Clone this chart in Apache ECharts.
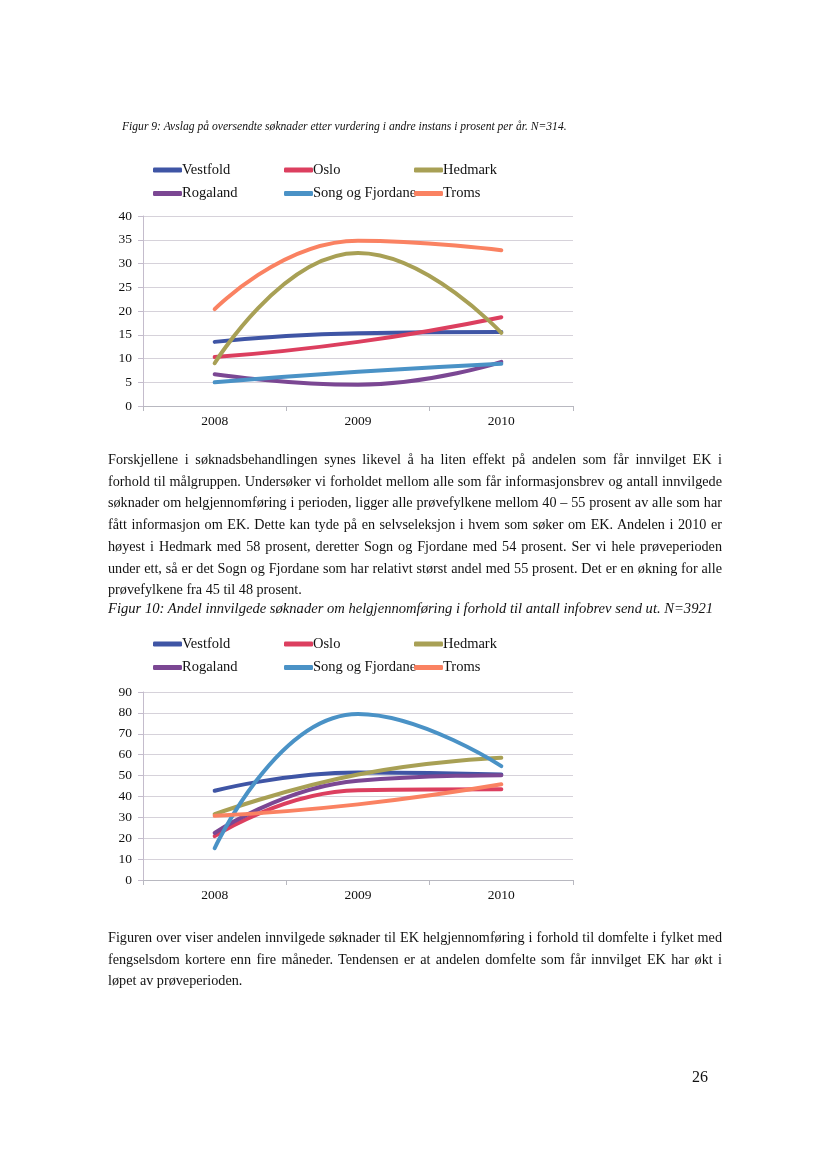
<!DOCTYPE html>
<html>
<head>
<meta charset="utf-8">
<script src="https://cdn.jsdelivr.net/npm/echarts@6/dist/echarts.min.js"></script>
<style>
  html, body { margin: 0; padding: 0; background: #fff; }
  #page { position: relative; width: 828px; height: 1169px; overflow: hidden; background: #fff; }
  #chart { position: absolute; left: 0; top: 0; width: 828px; height: 1169px; }
  .txt { position: absolute; font-family: "Liberation Serif", "DejaVu Serif", serif; color: #111; }
  .cap { font-style: italic; white-space: nowrap; }
  .para { left: 108px; width: 614px; font-size: 14.2px; line-height: 21.7px; }
  .para .l { white-space: nowrap; text-align: justify; text-align-last: justify; }
  .para .last { white-space: nowrap; text-align: left; }
</style>
</head>
<body>
<div id="page">
  <div id="chart"></div>
  <div class="txt cap" style="left:122px; top:120px; font-size:11.6px;">Figur 9: Avslag på oversendte søknader etter vurdering i andre instans i prosent per år. N=314.</div>
  <div class="txt para" style="top:449px;">
    <div class="l">Forskjellene i søknadsbehandlingen synes likevel å ha liten effekt på andelen som får innvilget EK i</div>
    <div class="l">forhold til målgruppen. Undersøker vi forholdet mellom alle som får informasjonsbrev og antall innvilgede</div>
    <div class="l">søknader om helgjennomføring i perioden, ligger alle prøvefylkene mellom 40 – 55 prosent av alle som har</div>
    <div class="l">fått informasjon om EK. Dette kan tyde på en selvseleksjon i hvem som søker om EK. Andelen i 2010 er</div>
    <div class="l">høyest i Hedmark med 58 prosent, deretter Sogn og Fjordane med 54 prosent. Ser vi hele prøveperioden</div>
    <div class="l">under ett, så er det Sogn og Fjordane som har relativt størst andel med 55 prosent. Det er en økning for alle</div>
    <div class="last">prøvefylkene fra 45 til 48 prosent.</div>
  </div>
  <div class="txt cap" style="left:108px; top:600px; font-size:14.6px;">Figur 10: Andel innvilgede søknader om helgjennomføring i forhold til antall infobrev send ut. N=3921</div>
  <div class="txt para" style="top:927px;">
    <div class="l">Figuren over viser andelen innvilgede søknader til EK helgjennomføring i forhold til domfelte i fylket med</div>
    <div class="l">fengselsdom kortere enn fire måneder. Tendensen er at andelen domfelte som får innvilget EK har økt i</div>
    <div class="last">løpet av prøveperioden.</div>
  </div>
  <div class="txt" style="left:692px; top:1068px; font-size:16px;">26</div>
</div>
<script>
// ---- data ----
var years = ['2008', '2009', '2010'];
var seriesNames = ['Vestfold', 'Oslo', 'Hedmark', 'Rogaland', 'Song og Fjordane', 'Troms'];
var colors = ['#3f55a5', '#dc3f5f', '#a8a055', '#7b4793', '#4a92c6', '#fa8262'];

// Figur 9: avslag i prosent
var fig9Vestfold = [13.5, 15.3, 15.6];
var fig9Oslo = [10.3, 13.5, 18.7];
var fig9Hedmark = [9.0, 32.2, 15.4];
var fig9Rogaland = [6.7, 4.5, 9.3];
var fig9SongOgFjordane = [5.0, 7.2, 8.9];
var fig9Troms = [20.4, 34.8, 32.8];

// Figur 10: andel innvilgede
var fig10Vestfold = [42.7, 51.5, 50.5];
var fig10Oslo = [21.0, 43.0, 43.5];
var fig10Hedmark = [31.5, 50.5, 58.5];
var fig10Rogaland = [22.5, 47.5, 50.2];
var fig10SongOgFjordane = [15.2, 79.5, 54.5];
var fig10Troms = [30.7, 36.2, 45.8];

var fig9Ticks = { min: 0, max: 40, interval: 5 };
var fig10Ticks = { min: 0, max: 90, interval: 10 };

var fig9Data = [fig9Vestfold, fig9Oslo, fig9Hedmark, fig9Rogaland, fig9SongOgFjordane, fig9Troms];
var fig10Data = [fig10Vestfold, fig10Oslo, fig10Hedmark, fig10Rogaland, fig10SongOgFjordane, fig10Troms];

// ---- chart ----
var FONT = '"Liberation Serif", "DejaVu Serif", serif';
var chart = echarts.init(document.getElementById('chart'), null, { renderer: 'canvas' });

function xAxisCfg(gridIndex) {
  return {
    type: 'category', gridIndex: gridIndex, data: years, boundaryGap: true,
    axisLine: { show: true, lineStyle: { color: '#b8b8c0', width: 1 } },
    axisTick: { show: true, length: 5, lineStyle: { color: '#b8b8c0' } },
    axisLabel: { color: '#111', fontFamily: FONT, fontSize: 13.5, margin: 8 },
    splitLine: { show: false }
  };
}
function yAxisCfg(gridIndex, t) {
  return {
    type: 'value', gridIndex: gridIndex, min: t.min, max: t.max, interval: t.interval,
    axisLine: { show: true, lineStyle: { color: '#c4bccc', width: 1 } },
    axisTick: { show: true, length: 5, lineStyle: { color: '#c4bccc' } },
    axisLabel: { color: '#111', fontFamily: FONT, fontSize: 13.5, margin: 11 },
    splitLine: { show: true, lineStyle: { color: '#d6d2da', width: 1 } }
  };
}
function legendCfg(names, left, top) {
  return {
    orient: 'vertical', left: left, top: top, data: names, padding: 0,
    icon: 'roundRect', itemWidth: 29, itemHeight: 5, itemGap: 7.5,
    selectedMode: false,
    textStyle: { color: '#111', fontFamily: FONT, fontSize: 14.5, lineHeight: 16, padding: [0, 0, 0, -5] }
  };
}

var series = [];
[fig9Data, fig10Data].forEach(function (set, gi) {
  set.forEach(function (vals, i) {
    series.push({
      name: seriesNames[i], type: 'line', xAxisIndex: gi, yAxisIndex: gi,
      data: vals, smooth: true, symbol: 'none', showSymbol: false,
      lineStyle: { width: 4, color: colors[i], cap: 'round' },
      itemStyle: { color: colors[i] },
      z: 2 + i
    });
  });
});

chart.setOption({
  animation: false,
  color: colors,
  grid: [
    { left: 143, top: 216, width: 430, height: 190 },
    { left: 143, top: 692, width: 430, height: 188 }
  ],
  xAxis: [xAxisCfg(0), xAxisCfg(1)],
  yAxis: [yAxisCfg(0, fig9Ticks), yAxisCfg(1, fig10Ticks)],
  legend: [
    legendCfg(['Vestfold', 'Rogaland'], 153, 162),
    legendCfg(['Oslo', 'Song og Fjordane'], 284, 162),
    legendCfg(['Hedmark', 'Troms'], 414, 162),
    legendCfg(['Vestfold', 'Rogaland'], 153, 636),
    legendCfg(['Oslo', 'Song og Fjordane'], 284, 636),
    legendCfg(['Hedmark', 'Troms'], 414, 636)
  ],
  series: series
});
</script>
</body>
</html>
